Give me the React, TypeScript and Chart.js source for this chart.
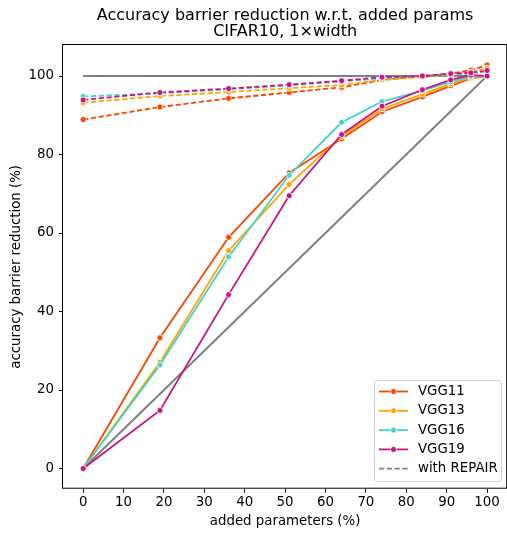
import React, { useEffect, useRef } from "react";
import { Chart, registerables } from "chart.js";

Chart.register(...registerables);

// ---- data ----
const addedParams = [0, 19, 36, 51, 64, 74, 84, 91, 96, 100];

const vgg11 = [0, 33.3, 58.9, 75.3, 84.0, 90.9, 94.7, 97.5, 99.4, 100];
const vgg13 = [0, 27.1, 55.5, 72.4, 84.6, 91.6, 95.4, 98.0, 99.6, 100];
const vgg16 = [0, 26.4, 53.9, 74.7, 88.2, 93.5, 96.3, 98.5, 99.9, 100];
const vgg19 = [0, 14.8, 44.3, 69.5, 85.1, 92.3, 96.5, 99.0, 100.2, 100];

const repair11 = [88.9, 92.1, 94.3, 95.8, 97.1, 99.0, 100.0, 100.6, 101.5, 102.8];
const repair13 = [93.2, 94.9, 95.9, 96.9, 97.7, 99.0, 99.7, 100.2, 101.0, 102.0];
const repair16 = [94.8, 95.6, 96.6, 97.6, 98.6, 99.4, 99.9, 100.3, 100.6, 101.2];
const repair19 = [93.9, 95.8, 96.8, 97.8, 98.8, 99.7, 100.0, 100.6, 100.8, 101.4];

const refX = [0, 100];
const fullY = [100, 100];
const diagY = [0, 100];

const seriesNames = ["VGG11", "VGG13", "VGG16", "VGG19"];
const repairLabel = "with REPAIR";
const seriesColors = ["#ff4500", "#ffa500", "#48d1cc", "#c71585"];
const solidSeries = [vgg11, vgg13, vgg16, vgg19];
const repairSeries = [repair11, repair13, repair16, repair19];

const xTicks = [0, 10, 20, 30, 40, 50, 60, 70, 80, 90, 100];
const yTicks = [0, 20, 40, 60, 80, 100];

const titleLines = ["Accuracy barrier reduction w.r.t. added params", "CIFAR10, 1\u00d7width"];
const xTitle = "added parameters (%)";
const yTitle = "accuracy barrier reduction (%)";

// ---- style ----
const FONT = "'DejaVu Sans', sans-serif";
const FS = 13.33;
const GRAY = "#808080";
const DASH = [5.2, 2.6];

const toPts = (xs: number[], ys: number[]) => xs.map((x, i) => ({ x, y: ys[i] }));

const framePlugin = {
  id: "frame",
  afterDatasetsDraw(chart: any) {
    const { ctx, chartArea: a } = chart;
    ctx.save();
    ctx.strokeStyle = "#000";
    ctx.lineWidth = 1;
    ctx.strokeRect(Math.round(a.left) - 0.5, Math.round(a.top) - 0.5, a.right - a.left, a.bottom - a.top);
    ctx.restore();
  },
};

const legendPlugin = {
  id: "customLegend",
  afterDraw(chart: any) {
    const { ctx } = chart;
    const bx = 374.5, by = 380.5, bw = 127, bh = 101, r = 3;
    ctx.save();
    ctx.beginPath();
    ctx.moveTo(bx + r, by);
    ctx.lineTo(bx + bw - r, by);
    ctx.quadraticCurveTo(bx + bw, by, bx + bw, by + r);
    ctx.lineTo(bx + bw, by + bh - r);
    ctx.quadraticCurveTo(bx + bw, by + bh, bx + bw - r, by + bh);
    ctx.lineTo(bx + r, by + bh);
    ctx.quadraticCurveTo(bx, by + bh, bx, by + bh - r);
    ctx.lineTo(bx, by + r);
    ctx.quadraticCurveTo(bx, by, bx + r, by);
    ctx.closePath();
    ctx.fillStyle = "rgba(255,255,255,0.8)";
    ctx.fill();
    ctx.strokeStyle = "#d0d0d0";
    ctx.lineWidth = 1;
    ctx.stroke();

    const items = [
      ...seriesNames.map((n, i) => ({ label: n, color: seriesColors[i], dashed: false })),
      { label: repairLabel, color: GRAY, dashed: true },
    ];
    const x0 = 379, x1 = 408, tx = 418;
    items.forEach((it, i) => {
      const y = 391.5 + i * 19.3;
      ctx.beginPath();
      ctx.setLineDash(it.dashed ? DASH : []);
      ctx.strokeStyle = it.color;
      ctx.lineWidth = 1.8;
      ctx.moveTo(x0, y);
      ctx.lineTo(x1, y);
      ctx.stroke();
      ctx.setLineDash([]);
      if (!it.dashed) {
        ctx.beginPath();
        ctx.arc((x0 + x1) / 2, y, 3, 0, Math.PI * 2);
        ctx.fillStyle = it.color;
        ctx.fill();
        ctx.strokeStyle = "#fff";
        ctx.lineWidth = 0.8;
        ctx.stroke();
      }
      ctx.fillStyle = "#000";
      ctx.font = `${FS}px ${FONT}`;
      ctx.textBaseline = "middle";
      ctx.textAlign = "left";
      ctx.fillText(it.label, tx, y);
    });
    ctx.restore();
  },
};

export default function App() {
  const ref = useRef<HTMLCanvasElement>(null);

  useEffect(() => {
    const canvas = ref.current;
    if (!canvas) return;

    const datasets: any[] = [
      {
        label: "_ref100",
        data: toPts(refX, fullY),
        borderColor: GRAY,
        borderWidth: 2,
        pointRadius: 0,
        order: 100,
      },
      {
        label: "_diag",
        data: toPts(refX, diagY),
        borderColor: GRAY,
        borderWidth: 2,
        pointRadius: 0,
        order: 99,
      },
    ];
    seriesNames.forEach((name, i) => {
      const common = {
        borderColor: seriesColors[i],
        backgroundColor: seriesColors[i],
        pointBackgroundColor: seriesColors[i],
        pointBorderColor: "#ffffff",
        pointBorderWidth: 0.8,
        pointRadius: 3,
        borderWidth: 1.8,
        tension: 0,
      };
      datasets.push({
        ...common,
        label: name,
        data: toPts(addedParams, solidSeries[i]),
        order: 50 - 2 * i,
      });
      datasets.push({
        ...common,
        label: name + " " + repairLabel,
        data: toPts(addedParams, repairSeries[i]),
        borderDash: DASH,
        order: 49 - 2 * i,
      });
    });

    const font = { family: FONT, size: FS };
    const chart = new Chart(canvas, {
      type: "line",
      data: { datasets },
      options: {
        responsive: false,
        animation: false,
        devicePixelRatio: 1,
        layout: { padding: { left: 0, right: 3, top: 0, bottom: 0 } },
        plugins: {
          legend: { display: false },
          tooltip: { enabled: false },
          title: {
            display: true,
            fullSize: false,
            text: titleLines,
            color: "#000",
            font: { family: FONT, size: 16, weight: "normal", lineHeight: 1 },
            padding: { top: 8, bottom: 5 },
          },
        },
        scales: {
          x: {
            type: "linear",
            min: -5,
            max: 105,
            afterBuildTicks: (s: any) => {
              s.ticks = xTicks.map((v) => ({ value: v }));
            },
            afterFit: (s: any) => {
              s.height = 47.3;
            },
            grid: { display: true, drawOnChartArea: false, drawTicks: true, tickLength: 4, color: "#000", lineWidth: 1 },
            border: { display: false },
            ticks: { font, color: "#000", padding: 2, maxRotation: 0, autoSkip: false },
            title: { display: true, text: xTitle, font, color: "#000", padding: { top: 0, bottom: 6 } },
          },
          y: {
            type: "linear",
            min: -5.14,
            max: 107.9,
            afterBuildTicks: (s: any) => {
              s.ticks = yTicks.map((v) => ({ value: v }));
            },
            afterFit: (s: any) => {
              s.width = 63;
            },
            grid: { display: true, drawOnChartArea: false, drawTicks: true, tickLength: 4, color: "#000", lineWidth: 1 },
            border: { display: false },
            ticks: { font, color: "#000", padding: 5, autoSkip: false },
            title: { display: true, text: yTitle, font, color: "#000", padding: { top: 9, bottom: 0 } },
          },
        },
      } as any,
      plugins: [framePlugin, legendPlugin],
    });
    return () => chart.destroy();
  }, []);

  return (
    <div style={{ position: "fixed", left: 0, top: 0, width: 507, height: 536, overflow: "hidden", background: "#fff" }}>
      <canvas ref={ref} width={512} height={536} style={{ display: "block", width: 512, height: 536 }} />
    </div>
  );
}
